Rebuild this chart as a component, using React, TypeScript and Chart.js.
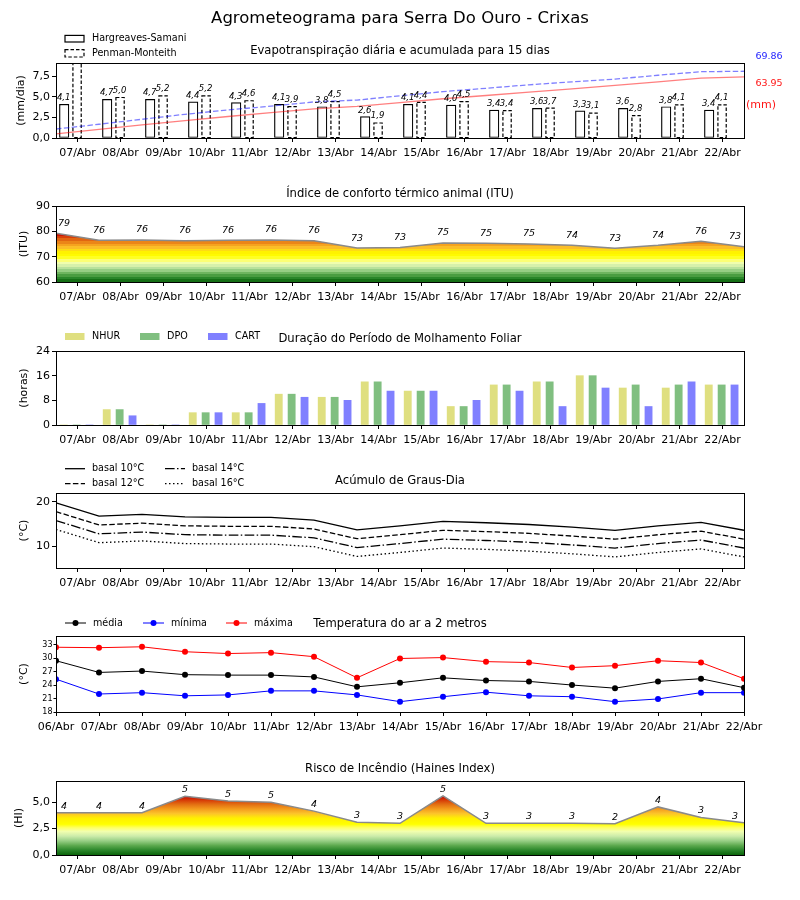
import React, { useEffect, useRef } from 'react';
import { Chart, registerables } from 'chart.js';

Chart.register(...registerables);

const FONT = '"DejaVu Sans", "Liberation Sans", sans-serif';

// ---------------- data ----------------
const mainTitle = 'Agrometeograma para Serra Do Ouro - Crixas';

const dayLabels = ['07/Abr', '08/Abr', '09/Abr', '10/Abr', '11/Abr', '12/Abr', '13/Abr', '14/Abr',
  '15/Abr', '16/Abr', '17/Abr', '18/Abr', '19/Abr', '20/Abr', '21/Abr', '22/Abr'];
const dateLabels = ['06/Abr', '07/Abr', '08/Abr', '09/Abr', '10/Abr', '11/Abr', '12/Abr', '13/Abr', '14/Abr',
  '15/Abr', '16/Abr', '17/Abr', '18/Abr', '19/Abr', '20/Abr', '21/Abr', '22/Abr'];

// Evapotranspiração
const etHargreaves = [4.1, 4.7, 4.7, 4.4, 4.3, 4.1, 3.8, 2.6, 4.1, 4.0, 3.4, 3.6, 3.3, 3.6, 3.8, 3.4];
const etPenman = [9.4, 5.0, 5.2, 5.2, 4.6, 3.9, 4.5, 1.9, 4.4, 4.5, 3.4, 3.7, 3.1, 2.8, 4.1, 4.1];
const etAccHargreaves = [4.4, 9.1, 13.8, 18.2, 22.5, 26.6, 30.4, 33.0, 37.1, 41.1, 44.5, 48.1, 51.4, 55.0, 58.8, 62.6, 63.95];
const etAccPenman = [9.4, 14.4, 19.6, 24.8, 29.4, 33.3, 37.8, 39.7, 44.1, 48.6, 52.0, 55.7, 58.8, 61.6, 65.7, 69.4, 69.86];
const etYTicks = [0, 2.5, 5, 7.5];

// ITU
const ituValues = [79.2, 76.5, 76.6, 76.3, 76.5, 76.6, 76.3, 73.4, 73.6, 75.4, 75.3, 75.0, 74.5, 73.3, 74.5, 76.1, 73.9];
const ituYTicks = [60, 70, 80, 90];

// Molhamento foliar
const wetNHUR = [0, 5, 0, 4, 4, 10, 9, 14, 11, 6, 13, 14, 16, 12, 12, 13];
const wetDPO = [0, 5, 0, 4, 4, 10, 9, 14, 11, 6, 13, 14, 16, 13, 13, 13];
const wetCART = [0, 3, 0, 4, 7, 9, 8, 11, 11, 8, 11, 6, 12, 6, 14, 13];
const wetYTicks = [0, 8, 16, 24];

// Graus-dia
const gdBasal10 = [19.8, 16.8, 17.2, 16.6, 16.5, 16.5, 15.9, 13.7, 14.6, 15.6, 15.3, 14.9, 14.3, 13.6, 14.6, 15.4, 13.6];
const gdBasal12 = [17.8, 14.8, 15.2, 14.6, 14.5, 14.5, 13.9, 11.7, 12.6, 13.6, 13.3, 12.9, 12.3, 11.6, 12.6, 13.4, 11.6];
const gdBasal14 = [15.8, 12.8, 13.2, 12.6, 12.5, 12.5, 11.9, 9.7, 10.6, 11.6, 11.3, 10.9, 10.3, 9.6, 10.6, 11.4, 9.6];
const gdBasal16 = [13.8, 10.8, 11.2, 10.6, 10.5, 10.5, 9.9, 7.7, 8.6, 9.6, 9.3, 8.9, 8.3, 7.6, 8.6, 9.4, 7.6];
const gdYTicks = [10, 20];

// Temperatura
const tempMedia = [29.4, 26.8, 27.1, 26.3, 26.2, 26.2, 25.8, 23.6, 24.5, 25.6, 25.0, 24.8, 24.0, 23.3, 24.8, 25.4, 23.4];
const tempMinima = [25.3, 22.0, 22.3, 21.6, 21.8, 22.7, 22.7, 21.8, 20.3, 21.4, 22.4, 21.6, 21.4, 20.3, 20.9, 22.3, 22.3];
const tempMaxima = [32.4, 32.3, 32.5, 31.4, 31.0, 31.2, 30.3, 25.6, 29.9, 30.1, 29.2, 29.0, 27.9, 28.3, 29.4, 29.0, 25.4];
const tempYTicks = [18, 21, 24, 27, 30, 33];

// Haines
const hainesValues = [4.0, 4.0, 4.0, 5.55, 5.1, 5.0, 4.15, 3.1, 3.0, 5.6, 3.0, 3.0, 3.0, 2.95, 4.55, 3.55, 3.05];
const hainesYTicks = [0, 2.5, 5];

// ---------------- helpers ----------------
const commaFmt = (v: number) => v.toFixed(1).replace('.', ',');
const intFmt = (v: number) => String(v);

function drawText(ctx: CanvasRenderingContext2D, s: string, x: number, y: number, o: any = {}) {
  ctx.save();
  ctx.font = `${o.italic ? 'italic ' : ''}${o.size ?? 11}px ${FONT}`;
  ctx.fillStyle = o.color ?? '#000';
  ctx.textAlign = o.align ?? 'center';
  ctx.textBaseline = o.baseline ?? 'middle';
  if (o.rotate) {
    ctx.translate(x, y);
    ctx.rotate(-Math.PI / 2);
    ctx.fillText(s, 0, 0);
  } else {
    ctx.fillText(s, x, y);
  }
  ctx.restore();
}

const align = (p: number) => Math.round(p - 0.5) + 0.5;

function commonDecor(chart: any, title: string, yLabel: string, yLabelX: number) {
  const { ctx, chartArea: a } = chart;
  const L = align(a.left), R = align(a.right), T = align(a.top), B = align(a.bottom);
  ctx.save();
  ctx.strokeStyle = '#000';
  ctx.lineWidth = 1;
  ctx.strokeRect(L, T, R - L, B - T);
  ctx.restore();
  drawText(ctx, title, (a.left + a.right) / 2, a.top - 9.5, { size: 11.6, baseline: 'alphabetic' });
  drawText(ctx, yLabel, yLabelX, (a.top + a.bottom) / 2, { size: 11, rotate: true });
}

function xScale(labels: string[], min: number, max: number) {
  return {
    type: 'linear', min, max, bounds: 'data', offset: false,
    afterBuildTicks: (s: any) => { s.ticks = labels.map((_, i) => ({ value: i })); },
    afterFit: (s: any) => { s.height = 28; },
    ticks: {
      autoSkip: false, maxRotation: 0, minRotation: 0, padding: 5, color: '#000',
      font: { family: FONT, size: 11 },
      callback: (_v: any, i: number) => labels[i],
    },
    grid: { display: true, drawOnChartArea: false, drawTicks: true, tickLength: 4, color: '#000', offset: false },
    border: { display: false },
  };
}

function yScale(ticks: number[], min: number, max: number, fmt: (v: number) => string, size = 11, tickLength = 4, padding = 2) {
  return {
    type: 'linear', min, max, bounds: 'data',
    afterBuildTicks: (s: any) => { s.ticks = ticks.map((v) => ({ value: v })); },
    afterFit: (s: any) => { s.width = 56; },
    ticks: { padding, color: '#000', font: { family: FONT, size }, callback: (_v: any, i: number) => fmt(ticks[i]) },
    grid: { display: true, drawOnChartArea: false, drawTicks: true, tickLength, color: '#000' },
    border: { display: false },
  };
}

function baseOptions(canvasTop: number, canvasH: number, plotTop: number, plotBottom: number, scales: any) {
  return {
    responsive: false, maintainAspectRatio: false, animation: false, events: [],
    layout: { padding: { top: plotTop - canvasTop, bottom: canvasH - (plotBottom - canvasTop) - 28, left: 0, right: 56 } },
    plugins: { legend: { display: false }, title: { display: false }, tooltip: { enabled: false } },
    scales,
  };
}

const heatStops: [number, string][] = [
  [0.0, '#0a640a'], [0.08, '#2a862a'], [0.16, '#5ca94e'], [0.24, '#98cf86'], [0.32, '#ccecaa'],
  [0.40, '#f2ffae'], [0.46, '#ffff66'], [0.52, '#ffff00'], [0.62, '#fff000'], [0.70, '#fcc42a'],
  [0.78, '#f39a1c'], [0.86, '#e26c12'], [0.93, '#d63806'], [1.0, '#c40000'],
];
function hexRgb(h: string) { const n = parseInt(h.slice(1), 16); return [(n >> 16) & 255, (n >> 8) & 255, n & 255]; }
function heatColor(t: number) {
  t = Math.max(0, Math.min(1, t));
  for (let k = 1; k < heatStops.length; k++) {
    if (t <= heatStops[k][0]) {
      const [p0, c0] = heatStops[k - 1];
      const [p1, c1] = heatStops[k];
      const f = (t - p0) / (p1 - p0);
      const a = hexRgb(c0), b = hexRgb(c1);
      return `rgb(${Math.round(a[0] + (b[0] - a[0]) * f)},${Math.round(a[1] + (b[1] - a[1]) * f)},${Math.round(a[2] + (b[2] - a[2]) * f)})`;
    }
  }
  return heatStops[heatStops.length - 1][1];
}
function heatFill(values: number[], axisMin: number, bands: number) {
  return (context: any) => {
    const chart = context.chart;
    if (!chart.chartArea) return 'rgba(0,0,0,0)';
    const ys = chart.scales.y;
    const y0 = ys.getPixelForValue(axisMin);
    const y1 = ys.getPixelForValue(Math.max(...values));
    const g = chart.ctx.createLinearGradient(0, y0, 0, y1);
    if (bands > 0) {
      for (let k = 0; k < bands; k++) {
        const c = heatColor((k + 0.5) / bands);
        g.addColorStop(k / bands, c);
        g.addColorStop((k + 1) / bands, c);
      }
    } else {
      heatStops.forEach(([p, c]) => g.addColorStop(p, c));
    }
    return g;
  };
}

function pointLabels(chart: any, values: number[], offset: number) {
  const meta = chart.getDatasetMeta(0);
  const a = chart.chartArea;
  meta.data.forEach((el: any, i: number) => {
    const x = Math.min(Math.max(el.x, a.left + 8), a.right - 9);
    drawText(chart.ctx, String(Math.floor(values[i])), x, el.y - offset, { size: 9.5, italic: true });
  });
}

const boundary = (arr: number[]) => arr.map((v, i) => ({ x: i - 0.5, y: v }));

// ---------------- panel configs ----------------
function etConfig() {
  const plugin = {
    id: 'etDecor',
    afterDatasetDraw(chart: any, args: any) {
      if (args.index !== 1) return;
      const { ctx, chartArea: a } = chart;
      ctx.save();
      ctx.beginPath();
      ctx.rect(a.left, a.top, a.right - a.left, a.bottom - a.top);
      ctx.clip();
      ctx.setLineDash([3.5, 2]);
      ctx.lineWidth = 1.2;
      ctx.strokeStyle = '#000';
      args.meta.data.forEach((el: any) => {
        const p = el.getProps(['x', 'y', 'base', 'width'], true);
        ctx.strokeRect(p.x - p.width / 2 + 0.6, p.y + 0.6, p.width - 1.2, p.base - p.y - 0.6);
      });
      ctx.restore();
    },
    afterDraw(chart: any) {
      const { ctx, chartArea: a } = chart;
      commonDecor(chart, 'Evapotranspiração diária e acumulada para 15 dias', '(mm/dia)', 20.8);
      drawText(ctx, mainTitle, 400, 23, { size: 16.5, baseline: 'alphabetic' });
      // legend
      ctx.save();
      ctx.fillStyle = '#fff';
      ctx.strokeStyle = '#000';
      ctx.lineWidth = 1.2;
      ctx.fillRect(65, a.top - 27.6, 19, 6.6);
      ctx.strokeRect(65, a.top - 27.6, 19, 6.6);
      ctx.setLineDash([3.5, 2]);
      ctx.strokeRect(65, a.top - 13.3, 19, 7.3);
      ctx.restore();
      drawText(ctx, 'Hargreaves-Samani', 92, a.top - 24.3, { size: 9.6, align: 'left' });
      drawText(ctx, 'Penman-Monteith', 92, a.top - 10, { size: 9.6, align: 'left' });
      // bar labels
      [etHargreaves, etPenman].forEach((vals, di) => {
        const meta = chart.getDatasetMeta(di);
        meta.data.forEach((el: any, i: number) => {
          if (el.y < a.top) return;
          drawText(ctx, commaFmt(vals[i]), el.x - 0.5, el.y - 2, { size: 8.5, italic: true, baseline: 'bottom' });
        });
      });
      // accumulated totals
      drawText(ctx, etAccPenman[etAccPenman.length - 1].toFixed(2), a.right + 25, a.top - 6, { size: 9.5, color: 'rgb(30,30,255)' });
      drawText(ctx, etAccHargreaves[etAccHargreaves.length - 1].toFixed(2), a.right + 25, a.top + 21, { size: 9.5, color: 'rgb(255,20,20)' });
      drawText(ctx, '(mm)', a.right + 17, a.top + 42, { size: 11, color: 'rgb(255,20,20)' });
    },
  };
  return {
    type: 'line',
    data: {
      datasets: [
        { type: 'bar', label: 'Hargreaves-Samani', data: etHargreaves.map((v, i) => ({ x: i - 0.31, y: v })),
          backgroundColor: '#fff', borderColor: '#000', borderWidth: 1.2, borderSkipped: false,
          barThickness: 9.5, grouped: false, order: 1 },
        { type: 'bar', label: 'Penman-Monteith', data: etPenman.map((v, i) => ({ x: i - 0.01, y: v })),
          backgroundColor: '#fff', borderWidth: 0, barThickness: 9.5, grouped: false, order: 1 },
        { type: 'line', label: 'PM acumulada', data: boundary(etAccPenman), yAxisID: 'y2',
          borderColor: 'rgba(0,0,255,0.5)', borderWidth: 1.3, borderDash: [5.5, 2.4], pointRadius: 0, fill: false, order: 0 },
        { type: 'line', label: 'HS acumulada', data: boundary(etAccHargreaves), yAxisID: 'y2',
          borderColor: 'rgba(255,0,0,0.5)', borderWidth: 1.3, pointRadius: 0, fill: false, order: 0 },
      ],
    },
    options: baseOptions(0, 172, 63, 138, {
      x: xScale(dayLabels, -0.5, 15.5),
      y: yScale(etYTicks, 0, 9.12, commaFmt),
      y2: { type: 'linear', display: false, min: 0, max: 78.5 },
    }),
    plugins: [plugin],
  };
}

function ituConfig() {
  const plugin = {
    id: 'ituDecor',
    afterDraw(chart: any) {
      commonDecor(chart, 'Índice de conforto térmico animal (ITU)', '(ITU)', 24.2);
      pointLabels(chart, ituValues, 10);
    },
  };
  return {
    type: 'line',
    data: {
      datasets: [{
        label: 'ITU', data: boundary(ituValues), borderColor: '#8a8a8a', borderWidth: 1.5, pointRadius: 0,
        fill: 'start', backgroundColor: heatFill(ituValues, 60, 19),
      }],
    },
    options: baseOptions(172, 143, 206, 282, {
      x: xScale(dayLabels, -0.5, 15.5),
      y: yScale(ituYTicks, 60, 90, intFmt),
    }),
    plugins: [plugin],
  };
}

function wetConfig() {
  const colors = ['#dfdf80', '#80bf80', '#8080ff'];
  const names = ['NHUR', 'DPO', 'CART'];
  const plugin = {
    id: 'wetDecor',
    afterDraw(chart: any) {
      const { ctx, chartArea: a } = chart;
      commonDecor(chart, 'Duração do Período de Molhamento Foliar', '(horas)', 24);
      const px = [65, 140, 208];
      names.forEach((n, k) => {
        ctx.save();
        ctx.fillStyle = colors[k];
        ctx.fillRect(px[k], a.top - 18, 19.5, 7);
        ctx.restore();
        drawText(ctx, n, px[k] + 27, a.top - 14.5, { size: 9.6, align: 'left' });
      });
    },
  };
  const series = [wetNHUR, wetDPO, wetCART];
  const offs = [-0.32, -0.02, 0.28];
  return {
    type: 'line',
    data: {
      datasets: series.map((s, k) => ({
        type: 'bar', label: names[k], data: s.map((v, i) => ({ x: i + offs[k], y: v })),
        backgroundColor: colors[k], borderWidth: 0, barThickness: 7.2, grouped: false,
      })),
    },
    options: baseOptions(315, 143, 351, 425, {
      x: xScale(dayLabels, -0.5, 15.5),
      y: yScale(wetYTicks, 0, 24, intFmt),
    }),
    plugins: [plugin],
  };
}

const gdDashes = [[], [5.5, 2.4], [9.6, 2.4, 1.5, 2.4], [1.5, 2.5]];
function gdConfig() {
  const names = ['basal 10°C', 'basal 12°C', 'basal 14°C', 'basal 16°C'];
  const plugin = {
    id: 'gdDecor',
    afterDraw(chart: any) {
      const { ctx, chartArea: a } = chart;
      commonDecor(chart, 'Acúmulo de Graus-Dia', '(°C)', 24);
      const pos = [[65, a.top - 24.3], [65, a.top - 9.3], [165, a.top - 24.3], [165, a.top - 9.3]];
      names.forEach((n, k) => {
        const [x, y] = pos[k];
        ctx.save();
        ctx.strokeStyle = '#000';
        ctx.lineWidth = 1.3;
        ctx.setLineDash(gdDashes[k]);
        ctx.beginPath();
        ctx.moveTo(x, y);
        ctx.lineTo(x + 20, y);
        ctx.stroke();
        ctx.restore();
        drawText(ctx, n, x + 27, y, { size: 9.6, align: 'left' });
      });
    },
  };
  const series = [gdBasal10, gdBasal12, gdBasal14, gdBasal16];
  return {
    type: 'line',
    data: {
      datasets: series.map((s, k) => ({
        label: names[k], data: boundary(s), borderColor: '#000', borderWidth: 1.3,
        borderDash: gdDashes[k], pointRadius: 0, fill: false,
      })),
    },
    options: baseOptions(458, 143, 493, 568, {
      x: xScale(dayLabels, -0.5, 15.5),
      y: yScale(gdYTicks, 5.1, 22, intFmt),
    }),
    plugins: [plugin],
  };
}

function tempConfig() {
  const names = ['média', 'mínima', 'máxima'];
  const colors = ['#000000', '#0000ff', '#ff0000'];
  const plugin = {
    id: 'tempDecor',
    afterDraw(chart: any) {
      const { ctx, chartArea: a } = chart;
      commonDecor(chart, 'Temperatura do ar a 2 metros', '(°C)', 24);
      const px = [65, 143, 226];
      const y = a.top - 13;
      names.forEach((n, k) => {
        ctx.save();
        ctx.strokeStyle = colors[k];
        ctx.fillStyle = colors[k];
        ctx.lineWidth = 1;
        ctx.beginPath();
        ctx.moveTo(px[k], y);
        ctx.lineTo(px[k] + 21, y);
        ctx.stroke();
        ctx.beginPath();
        ctx.arc(px[k] + 10.5, y, 3, 0, Math.PI * 2);
        ctx.fill();
        ctx.restore();
        drawText(ctx, n, px[k] + 28, y, { size: 9.6, align: 'left' });
      });
    },
  };
  const series = [tempMedia, tempMinima, tempMaxima];
  return {
    type: 'line',
    data: {
      datasets: series.map((s, k) => ({
        label: names[k], data: s.map((v, i) => ({ x: i, y: v })), borderColor: colors[k], borderWidth: 1,
        pointRadius: 3, pointBackgroundColor: colors[k], pointBorderWidth: 0, fill: false,
      })),
    },
    options: baseOptions(601, 143, 636, 712, {
      x: xScale(dateLabels, 0, 16),
      y: yScale(tempYTicks, 18, 34.9, intFmt, 8, 2.5, 1),
    }),
    plugins: [plugin],
  };
}

function hainesConfig() {
  const plugin = {
    id: 'hainesDecor',
    afterDraw(chart: any) {
      commonDecor(chart, 'Risco de Incêndio (Haines Index)', '(HI)', 19.2);
      pointLabels(chart, hainesValues, 6.5);
    },
  };
  return {
    type: 'line',
    data: {
      datasets: [{
        label: 'Haines', data: boundary(hainesValues), borderColor: '#8a8a8a', borderWidth: 1.5, pointRadius: 0,
        fill: 'start', backgroundColor: heatFill(hainesValues, 0, 0),
      }],
    },
    options: baseOptions(744, 156, 781, 855, {
      x: xScale(dayLabels, -0.5, 15.5),
      y: yScale(hainesYTicks, 0, 7, commaFmt),
    }),
    plugins: [plugin],
  };
}

// ---------------- components ----------------
function Panel({ top, height, build }: { top: number; height: number; build: () => any }) {
  const ref = useRef<HTMLCanvasElement | null>(null);
  useEffect(() => {
    if (!ref.current) return;
    const chart = new Chart(ref.current, build());
    return () => chart.destroy();
  }, [build]);
  return (
    <canvas
      ref={ref}
      width={800}
      height={height}
      style={{ position: 'absolute', left: 0, top, width: 800, height, display: 'block' }}
    />
  );
}

const panels = [
  { top: 0, height: 172, build: etConfig },
  { top: 172, height: 143, build: ituConfig },
  { top: 315, height: 143, build: wetConfig },
  { top: 458, height: 143, build: gdConfig },
  { top: 601, height: 143, build: tempConfig },
  { top: 744, height: 156, build: hainesConfig },
];

export default function App() {
  return (
    <div style={{ position: 'absolute', left: 0, top: 0, width: 800, height: 900, background: '#fff', overflow: 'hidden' }}>
      {panels.map((p) => (
        <Panel key={p.top} top={p.top} height={p.height} build={p.build} />
      ))}
    </div>
  );
}
